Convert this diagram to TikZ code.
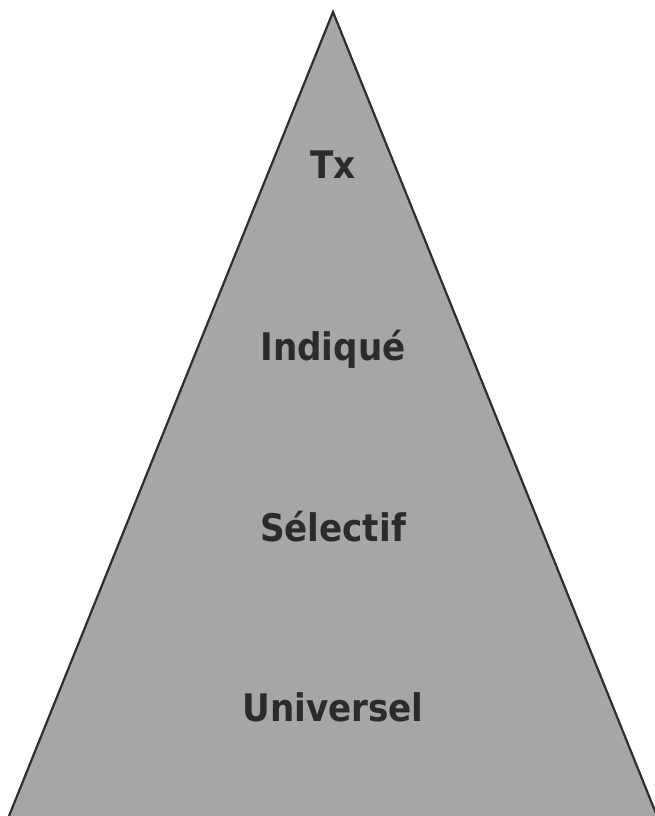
\documentclass[tikz,border=0pt]{standalone}
\usepackage{fontspec}
\setmainfont{DejaVu Sans Condensed}[BoldFont={DejaVu Sans Condensed Bold}]
\definecolor{pyrfill}{HTML}{A6A6A6}
\definecolor{pyrline}{HTML}{2E2E2E}
\definecolor{pyrtext}{HTML}{2B2B2B}
\tikzset{
  level/.style={font=\fontsize{38}{44}\selectfont\bfseries, text=pyrtext, inner sep=0pt, anchor=base}
}
\begin{document}
\begin{tikzpicture}[x=1pt,y=1pt]
  \useasboundingbox (0,0) rectangle (654,816);
  % pyramid
  \coordinate (apex) at (333,804);
  \coordinate (bl) at (9,0);
  \coordinate (br) at (657,0);
  \filldraw[fill=pyrfill, draw=pyrline, line width=2.2pt, line join=miter] (bl) -- (apex) -- (br);
  % level labels
  \node[level] (tx)  at (333,637) {Tx};
  \node[level] (ind) at (333,455) {Indiqué};
  \node[level] (sel) at (333,274) {Sélectif};
  \node[level] (uni) at (333,94)  {Universel};
\end{tikzpicture}
\end{document}
